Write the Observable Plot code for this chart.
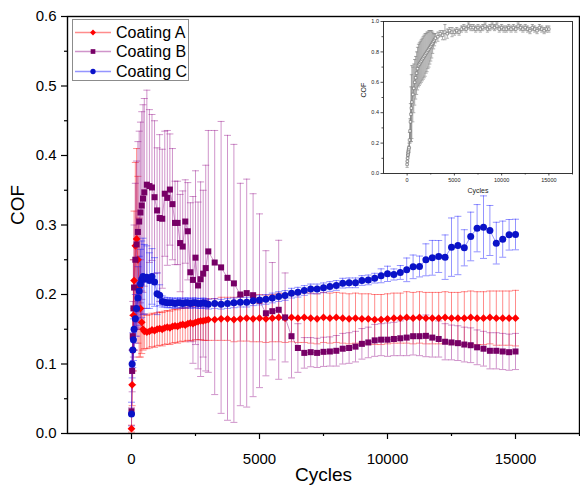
<!DOCTYPE html>
<html><head><meta charset="utf-8">
<script src="https://cdn.jsdelivr.net/npm/d3@7"></script>
<script src="https://cdn.jsdelivr.net/npm/@observablehq/plot@0.6"></script>
<style>
body{margin:0;background:#fff;}
#wrap{position:relative;width:580px;height:491px;font-family:Arial,"Liberation Sans",sans-serif;}
#inset{position:absolute;left:355px;top:15px;}
#legend{position:absolute;left:72px;top:19px;width:117px;height:62px;border:1px solid #8c8c8c;background:#fff;box-sizing:border-box;}
.lrow{position:absolute;left:1px;height:19px;line-height:19px;font-size:16px;color:#000;white-space:nowrap;}
.lrow svg{position:absolute;left:0;top:3px;}
.lrow span{position:absolute;left:42px;top:0;}
</style></head><body><div id="wrap"></div>
<script>
// ---- data ----
const seriesNames = ["Coating A", "Coating B", "Coating C"];
const cycles = [0,25,50,75,100,150,200,250,300,350,400,450,500,
600,700,800,900,1000,1100,1200,1300,1400,1500,1600,1700,1800,1900,2000,2100,2200,2300,2400,2500,2600,2700,2800,2900,3000,
3250,3500,3750,4000,4250,4500,4750,5000,5250,5500,5750,6000,6250,6500,6750,7000,7250,7500,7750,8000,8250,8500,8750,9000,9250,9500,9750,10000,10250,10500,10750,11000,11250,11500,11750,12000,12250,12500,12750,13000,13250,13500,13750,14000,14250,14500,14750,15000];

const cofA = [0.007,0.07,0.12,0.17,0.22,0.27,0.28,0.25,0.21,0.18,0.16,0.15,0.147,
0.146,0.147,0.149,0.148,0.150,0.151,0.150,0.152,0.153,0.152,0.154,0.155,0.154,0.156,0.157,0.156,0.158,0.159,0.158,0.160,0.161,0.162,0.162,0.163,0.164,
0.164,0.165,0.165,0.164,0.165,0.166,0.165,0.166,0.165,0.166,0.167,0.166,0.167,0.166,0.167,0.166,0.165,0.167,0.166,0.167,0.166,0.165,0.166,0.165,0.165,0.164,0.164,0.165,0.166,0.166,0.167,0.166,0.167,0.166,0.166,0.166,0.167,0.166,0.166,0.166,0.167,0.166,0.166,0.167,0.166,0.166,0.166,0.166];
const errA = [0.005,0.03,0.05,0.08,0.10,0.12,0.13,0.12,0.10,0.07,0.045,0.03,0.025,
0.024,0.024,0.024,0.024,0.024,0.024,0.024,0.024,0.024,0.024,0.024,0.024,0.024,0.024,0.024,0.024,0.024,0.025,0.025,0.025,0.026,0.027,0.028,0.029,0.030,
0.030,0.031,0.031,0.032,0.032,0.033,0.033,0.034,0.034,0.034,0.035,0.035,0.035,0.035,0.036,0.036,0.036,0.036,0.036,0.036,0.036,0.036,0.036,0.036,0.036,0.036,0.036,0.036,0.036,0.036,0.037,0.037,0.037,0.037,0.037,0.037,0.037,0.037,0.037,0.038,0.038,0.038,0.038,0.038,0.039,0.039,0.039,0.040,0.040,0.040];

const cofB = [0.032,0.09,0.14,0.18,0.21,0.25,0.272,0.29,0.305,0.318,0.328,0.338,0.347,
0.358,0.356,0.354,0.340,0.321,0.310,0.309,0.345,0.339,0.351,0.330,0.303,0.303,0.274,0.269,0.305,0.291,0.232,0.221,0.253,0.213,0.222,0.230,0.238,0.262,
0.246,0.239,0.224,0.216,0.200,0.202,0.199,0.191,0.173,0.176,0.178,0.167,0.140,0.123,0.116,0.117,0.116,0.1175,0.118,0.119,0.122,0.123,0.125,0.129,0.131,0.134,0.135,0.135,0.136,0.137,0.138,0.140,0.140,0.1405,0.138,0.136,0.132,0.131,0.130,0.128,0.127,0.124,0.122,0.119,0.119,0.118,0.117,0.118];
const errB = [0.005,0.03,0.05,0.07,0.09,0.11,0.12,0.13,0.13,0.13,0.135,0.135,0.135,
0.136,0.11,0.105,0.11,0.09,0.12,0.10,0.09,0.097,0.08,0.08,0.06,0.06,0.07,0.08,0.06,0.07,0.10,0.12,0.125,0.12,0.14,0.12,0.148,0.174,
0.19,0.21,0.205,0.20,0.16,0.164,0.146,0.125,0.09,0.07,0.10,0.064,0.06,0.035,0.022,0.021,0.021,0.021,0.021,0.022,0.022,0.022,0.022,0.022,0.022,0.023,0.023,0.024,0.024,0.025,0.026,0.027,0.028,0.030,0.028,0.026,0.026,0.025,0.025,0.025,0.025,0.025,0.025,0.026,0.026,0.026,0.026,0.026];

const cofC = [0.028,0.10,0.12,0.135,0.15,0.165,0.18,0.195,0.205,0.215,0.222,0.226,0.222,
0.225,0.220,0.226,0.218,0.201,0.199,0.190,0.189,0.188,0.188,0.188,0.187,0.188,0.188,0.187,0.188,0.188,0.187,0.188,0.188,0.187,0.187,0.188,0.187,0.186,
0.187,0.186,0.187,0.188,0.189,0.189,0.191,0.192,0.193,0.195,0.197,0.1986,0.2019,0.2033,0.2058,0.208,0.208,0.2096,0.2115,0.213,0.2163,0.2168,0.2168,0.2201,0.221,0.2235,0.2269,0.2297,0.2288,0.2317,0.2355,0.2398,0.2403,0.2499,0.2528,0.2547,0.2537,0.2681,0.2705,0.2672,0.2835,0.2954,0.2969,0.2921,0.2739,0.2796,0.2859,0.2863];
const errC = [0.017,0.02,0.025,0.03,0.03,0.035,0.04,0.045,0.05,0.05,0.055,0.055,0.05,
0.045,0.04,0.04,0.035,0.03,0.015,0.008,0.007,0.007,0.007,0.007,0.007,0.007,0.007,0.007,0.007,0.007,0.007,0.007,0.007,0.007,0.007,0.007,0.007,0.007,
0.007,0.007,0.007,0.007,0.007,0.007,0.007,0.007,0.007,0.007,0.007,0.007,0.007,0.007,0.007,0.007,0.007,0.007,0.007,0.007,0.007,0.007,0.007,0.007,0.007,0.007,
0.010,0.011,0.008,0.010,0.017,0.017,0.015,0.023,0.025,0.023,0.032,0.042,0.042,0.026,0.035,0.034,0.045,0.036,0.030,0.026,0.022,0.022];

// inset (single grey series)
const insetCycles = [0,25,50,75,100,125,150,175,200,250,300,350,400,450,500,
600,700,800,900,1000,1100,1200,1300,1400,1500,1600,1700,1800,1900,2000,2100,2200,2300,2400,2500,2600,2700,2800,2900,3000,
3250,3500,3750,4000,4250,4500,4750,5000,5250,5500,5750,6000,6250,6500,6750,7000,7250,7500,7750,8000,8250,8500,8750,9000,9250,9500,9750,10000,10250,10500,10750,11000,11250,11500,11750,12000,12250,12500,12750,13000,13250,13500,13750,14000,14250,14500,14750,15000];
const insetCof = [0.06,0.08,0.10,0.12,0.13,0.14,0.15,0.16,0.17,0.22,0.28,0.34,0.39,0.43,0.47,
0.52,0.56,0.60,0.63,0.66,0.69,0.71,0.72,0.73,0.74,0.75,0.76,0.77,0.78,0.79,0.80,0.81,0.82,0.83,0.84,0.85,0.86,0.87,0.88,0.89,
0.90,0.92,0.91,0.93,0.92,0.94,0.93,0.93,0.94,0.93,0.95,0.96,0.95,0.97,0.96,0.96,0.95,0.96,0.95,0.96,0.97,0.95,0.96,0.97,0.96,0.97,0.95,0.96,0.95,0.95,0.96,0.95,0.96,0.95,0.97,0.96,0.95,0.96,0.95,0.94,0.96,0.95,0.94,0.96,0.95,0.94,0.95,0.95];
const insetErr = [0.02,0.02,0.02,0.02,0.02,0.02,0.02,0.02,0.03,0.05,0.08,0.12,0.18,0.22,0.24,
0.18,0.16,0.15,0.14,0.14,0.14,0.14,0.14,0.14,0.14,0.14,0.14,0.14,0.14,0.13,0.13,0.12,0.12,0.11,0.10,0.09,0.07,0.05,0.04,0.03,
0.03,0.02,0.03,0.05,0.03,0.02,0.03,0.02,0.02,0.02,0.02,0.02,0.02,0.02,0.02,0.02,0.02,0.02,0.02,0.02,0.02,0.02,0.02,0.02,0.02,0.02,0.02,0.02,0.02,0.02,0.02,0.02,0.02,0.02,0.02,0.02,0.02,0.02,0.02,0.02,0.02,0.02,0.02,0.02,0.02,0.02,0.02,0.02];

const xMajor = [0, 5000, 10000, 15000];
const xMinor = [2500, 7500, 12500, 17500];
const yMajor = [0, 0.1, 0.2, 0.3, 0.4, 0.5, 0.6];
const yMinor = [0.05, 0.15, 0.25, 0.35, 0.45, 0.55];
const insetYMajor = [0, 0.2, 0.4, 0.6, 0.8, 1.0];
const insetYMinor = [0.1, 0.3, 0.5, 0.7, 0.9];

// ---- styles ----
const styles = [
  {mark: "#ff0000", pale: "rgba(255,0,0,0.45)", symbol: "diamond2", d3sym: d3.symbolDiamond2, r: 3.5},
  {mark: "#770066", pale: "rgba(150,20,140,0.45)", symbol: "square", d3sym: d3.symbolSquare, r: 3.4},
  {mark: "#0a12c8", pale: "rgba(20,20,255,0.45)", symbol: "circle", d3sym: d3.symbolCircle, r: 3.5}
];
const capSym = {draw(ctx, size) { const w = Math.sqrt(size / Math.PI); ctx.moveTo(-w, 0); ctx.lineTo(w, 0); }};

const toRows = (cs, vs, es) => cs.map((c, i) => ({c, v: vs[i], lo: vs[i] - es[i], hi: vs[i] + es[i]}));
const data = [toRows(cycles, cofA, errA), toRows(cycles, cofB, errB), toRows(cycles, cofC, errC)];

const barMarks = [], lineMarks = [], dotMarks = [];
data.forEach((rows, k) => {
  const s = styles[k];
  barMarks.push(Plot.ruleX(rows, {x: "c", y1: "lo", y2: "hi", stroke: s.pale, strokeWidth: 1}));
  barMarks.push(Plot.dot(rows, {x: "c", y: "lo", symbol: capSym, r: 3.5, stroke: s.pale, fill: "none", strokeWidth: 1}));
  barMarks.push(Plot.dot(rows, {x: "c", y: "hi", symbol: capSym, r: 3.5, stroke: s.pale, fill: "none", strokeWidth: 1}));
  lineMarks.push(Plot.line(rows, {x: "c", y: "v", stroke: s.pale, strokeWidth: 1}));
  dotMarks.push(Plot.dot(rows, {x: "c", y: "v", symbol: s.symbol, r: s.r, fill: s.mark, stroke: "none"}));
});

const FONT = "Arial, 'Liberation Sans', sans-serif";
const main = Plot.plot({
  width: 580, height: 491,
  marginLeft: 67, marginRight: 1, marginTop: 16, marginBottom: 58,
  style: {fontFamily: FONT, fontSize: "15px", color: "#000", background: "#fff", overflow: "visible"},
  x: {domain: [-2500, 17500]},
  y: {domain: [0, 0.6]},
  marks: [
    ...barMarks, ...lineMarks, ...dotMarks,
    Plot.frame({stroke: "#000", strokeWidth: 1.4}),
    Plot.axisX(xMajor, {tickSize: 6, tickPadding: 14, tickFormat: d3.format("d"), label: null, strokeWidth: 1.2}),
    Plot.axisX(xMinor, {tickSize: 3, tickFormat: () => "", label: null, strokeWidth: 1.2}),
    Plot.axisY(yMajor, {tickSize: 6, tickPadding: 5, tickFormat: d3.format(".1f"), label: null, strokeWidth: 1.2}),
    Plot.axisY(yMinor, {tickSize: 3, tickFormat: () => "", label: null, strokeWidth: 1.2}),
    Plot.text(["COF"], {text: d => d, frameAnchor: "left", dx: -50, rotate: -90, fontSize: 19}),
    Plot.text(["Cycles"], {text: d => d, frameAnchor: "bottom", dy: 47, fontSize: 19})
  ]
});

const insetRows = toRows(insetCycles, insetCof, insetErr);
const inset = Plot.plot({
  width: 225, height: 185,
  marginLeft: 28, marginRight: 8, marginTop: 6, marginBottom: 27,
  style: {fontFamily: FONT, fontSize: "5.5px", color: "#222", background: "transparent", overflow: "visible"},
  x: {domain: [-2500, 17500]},
  y: {domain: [0, 1]},
  marks: [
    Plot.ruleX(insetRows, {x: "c", y1: "lo", y2: "hi", stroke: "#8a8a8a", strokeWidth: 0.7}),
    Plot.dot(insetRows, {x: "c", y: "lo", symbol: capSym, r: 1.6, stroke: "#8a8a8a", fill: "none", strokeWidth: 0.7}),
    Plot.dot(insetRows, {x: "c", y: "hi", symbol: capSym, r: 1.6, stroke: "#8a8a8a", fill: "none", strokeWidth: 0.7}),
    Plot.line(insetRows, {x: "c", y: "v", stroke: "#777", strokeWidth: 0.6}),
    Plot.dot(insetRows, {x: "c", y: "v", symbol: "square", r: 1.4, stroke: "#666", fill: "#fff", strokeWidth: 0.6}),
    Plot.frame({stroke: "#222", strokeWidth: 0.9}),
    Plot.axisX(xMajor, {tickSize: 2.5, tickPadding: 2.5, tickFormat: d3.format("d"), label: null, strokeWidth: 0.8}),
    Plot.axisX(xMinor, {tickSize: 1.5, tickFormat: () => "", label: null, strokeWidth: 0.8}),
    Plot.axisY(insetYMajor, {tickSize: 2.5, tickPadding: 2, tickFormat: d3.format(".1f"), label: null, strokeWidth: 0.8}),
    Plot.axisY(insetYMinor, {tickSize: 1.5, tickFormat: () => "", label: null, strokeWidth: 0.8}),
    Plot.text(["COF"], {text: d => d, frameAnchor: "left", dx: -20, rotate: -90, fontSize: 7}),
    Plot.text(["Cycles"], {text: d => d, frameAnchor: "bottom", dy: 19, fontSize: 7})
  ]
});

const wrap = document.getElementById("wrap");
wrap.appendChild(main);
const insetDiv = document.createElement("div");
insetDiv.id = "inset";
insetDiv.appendChild(inset);
wrap.appendChild(insetDiv);

// legend
const legend = document.createElement("div");
legend.id = "legend";
seriesNames.forEach((name, k) => {
  const s = styles[k];
  const row = document.createElement("div");
  row.className = "lrow";
  row.style.top = (3 + k * 19.3) + "px";
  const svg = d3.create("svg").attr("width", 38).attr("height", 13);
  svg.append("line").attr("x1", 1).attr("x2", 37).attr("y1", 6.5).attr("y2", 6.5).attr("stroke", s.pale).attr("stroke-width", 1.5);
  svg.append("path").attr("d", d3.symbol(s.d3sym, 22)()).attr("transform", "translate(19,6.5)").attr("fill", s.mark);
  row.appendChild(svg.node());
  const span = document.createElement("span");
  span.textContent = name;
  row.appendChild(span);
  legend.appendChild(row);
});
wrap.appendChild(legend);
</script></body></html>
